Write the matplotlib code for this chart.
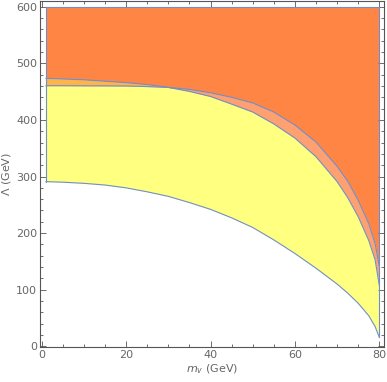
import numpy as np
import matplotlib.pyplot as plt
from matplotlib.ticker import MultipleLocator

# values
mv = [1, 5, 10, 15, 20, 25, 30, 35, 40, 45, 50, 55, 60, 65, 70,
      72.5, 75, 77.5, 79, 80]
lam_low = [291, 290, 288, 285, 280, 273, 265, 254, 242, 227, 210, 188,
           164, 138, 110, 94, 76, 54, 35, 16]
lam_a = [473.5, 472.5, 471, 468.5, 466, 462.5, 457.5, 450.5, 441.5, 428,
         414, 393, 368, 335, 291, 263, 229, 187, 153, 108]
lam_b = [460.5, 460.5, 460.3, 460.2, 460, 459, 457.5, 454, 448, 440,
         430, 414, 391, 361, 318, 292, 258, 217, 182, 142]
lam_top = 600

x = np.array(mv, dtype=float)
low = np.array(lam_low, dtype=float)
a = np.array(lam_a, dtype=float)
b = np.array(lam_b, dtype=float)

c_yellow = '#ffff80'
c_gold = '#ffb44a'
c_salmon = '#ffa070'
c_orange = '#ff8545'
c_line = '#6f8fc8'
c_axis = '#555555'
c_text = '#666666'

fig = plt.figure(figsize=(3.87, 3.82), dpi=100)
ax = fig.add_axes([0.103, 0.092, 0.888, 0.905])

# yellow band
ax.fill_between(x, low, np.minimum(a, b), color=c_yellow, lw=0)
# strip between the two upper curves
ax.fill_between(x, b, a, where=a >= b, interpolate=True, color=c_gold, lw=0)
ax.fill_between(x, a, b, where=b >= a, interpolate=True, color=c_salmon, lw=0)
# top region
ax.fill_between(x, np.maximum(a, b), lam_top, color=c_orange, lw=0)

# boundary lines
for y in (low, a, b):
    ax.plot(x, y, color=c_line, lw=0.8)
ax.plot([x[0], x[0]], [low[0], lam_top], color=c_line, lw=0.8)
ax.plot([x[-1], x[-1]], [low[-1], lam_top], color=c_line, lw=0.8)
ax.plot([x[0], x[-1]], [lam_top, lam_top], color=c_line, lw=0.8)

ax.set_xlim(-0.45, 81)
ax.set_ylim(-1, 610)

ax.xaxis.set_major_locator(MultipleLocator(20))
ax.xaxis.set_minor_locator(MultipleLocator(5))
ax.yaxis.set_major_locator(MultipleLocator(100))
ax.yaxis.set_minor_locator(MultipleLocator(20))
ax.tick_params(which='both', direction='in', top=True, right=True,
               color=c_axis, width=0.6, labelsize=8, labelcolor=c_text, pad=2)
ax.tick_params(which='major', length=4)
ax.tick_params(which='minor', length=2)
for s in ax.spines.values():
    s.set_color(c_axis)
    s.set_linewidth(0.8)

ax.set_xlabel(r'$m_v$ (GeV)', fontsize=8, color=c_text, labelpad=2)
ax.set_ylabel(r'$\Lambda$ (GeV)', fontsize=8, color=c_text, labelpad=2)

fig.savefig('out.png', dpi=100)
